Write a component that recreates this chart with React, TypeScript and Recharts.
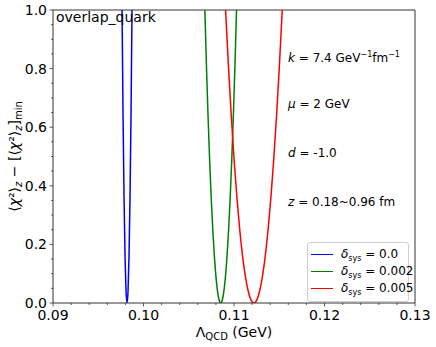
import { LineChart, Line, XAxis, YAxis, ReferenceLine } from "recharts";

const FONT = "DejaVu Sans, sans-serif";

// delta_sys = 0.0
const blueX = [0.09763, 0.09774, 0.09785, 0.09796, 0.09807, 0.09818, 0.09829, 0.0984, 0.09851, 0.09862, 0.09873];
const blueY = [1, 0.64, 0.36, 0.16, 0.04, 0, 0.04, 0.16, 0.36, 0.64, 1];

// delta_sys = 0.002
const greenX = [
  0.10678, 0.106955, 0.10713, 0.107305, 0.10748, 0.107655, 0.10783, 0.108005, 0.10818, 0.108355, 0.10853,
  0.108705, 0.10888, 0.109055, 0.10923, 0.109405, 0.10958, 0.109755, 0.10993, 0.110105, 0.11028,
];
const greenY = [1, 0.81, 0.64, 0.49, 0.36, 0.25, 0.16, 0.09, 0.04, 0.01, 0, 0.01, 0.04, 0.09, 0.16, 0.25, 0.36, 0.49, 0.64, 0.81, 1];

// delta_sys = 0.005
const redX = [
  0.10907, 0.109383, 0.109696, 0.110009, 0.110322, 0.110635, 0.110948, 0.111261, 0.111574, 0.111887, 0.1122,
  0.112513, 0.112826, 0.113139, 0.113452, 0.113765, 0.114078, 0.114391, 0.114704, 0.115017, 0.11533,
];
const redY = [1, 0.81, 0.64, 0.49, 0.36, 0.25, 0.16, 0.09, 0.04, 0.01, 0, 0.01, 0.04, 0.09, 0.16, 0.25, 0.36, 0.49, 0.64, 0.81, 1];

const sysLabels = ["0.0", "0.002", "0.005"];
const sysColors = ["#0000ff", "#008000", "#ff0000"];

const xTicks = [
  0.09, 0.092, 0.094, 0.096, 0.098, 0.1, 0.102, 0.104, 0.106, 0.108, 0.11,
  0.112, 0.114, 0.116, 0.118, 0.12, 0.122, 0.124, 0.126, 0.128, 0.13,
];
const xMajor = [0.09, 0.1, 0.11, 0.12, 0.13];
const yTicks = [
  0, 0.05, 0.1, 0.15, 0.2, 0.25, 0.3, 0.35, 0.4, 0.45, 0.5,
  0.55, 0.6, 0.65, 0.7, 0.75, 0.8, 0.85, 0.9, 0.95, 1,
];
const yMajor = [0, 0.2, 0.4, 0.6, 0.8, 1];

const toPoints = (xs: number[], ys: number[]) => xs.map((x, i) => ({ x, y: ys[i] }));
const series = [toPoints(blueX, blueY), toPoints(greenX, greenY), toPoints(redX, redY)];

const isIn = (v: number, list: number[]) => list.some((m) => Math.abs(m - v) < 1e-9);

const axisColor = "#333";

const XTick = ({ x, y, payload }: any) => {
  const major = isIn(payload.value, xMajor);
  return (
    <g>
      <line x1={x} x2={x} y1={y} y2={y + (major ? 3.5 : 2)} stroke={axisColor} strokeWidth={0.8} />
      {major && (
        <text x={x} y={y + 17} textAnchor="middle" fontSize={14} fontFamily={FONT} fill="#000">
          {payload.value.toFixed(2)}
        </text>
      )}
    </g>
  );
};

const YTick = ({ x, y, payload }: any) => {
  const major = isIn(payload.value, yMajor);
  return (
    <g>
      <line x1={x - (major ? 3.5 : 2)} x2={x} y1={y} y2={y} stroke={axisColor} strokeWidth={0.8} />
      {major && (
        <text x={x - 6} y={y + 5} textAnchor="end" fontSize={14} fontFamily={FONT} fill="#000">
          {payload.value.toFixed(1)}
        </text>
      )}
    </g>
  );
};

const XLabel = ({ viewBox }: any) => {
  const cx = viewBox.x + viewBox.width / 2;
  return (
    <text x={cx} y={337} textAnchor="middle" fontSize={14} fontFamily={FONT} fill="#000">
      Λ<tspan fontSize={10} dy={3}>QCD</tspan>
      <tspan dy={-3}> (GeV)</tspan>
    </text>
  );
};

const YLabel = ({ viewBox }: any) => {
  const cy = viewBox.y + viewBox.height / 2;
  return (
    <text
      x={0}
      y={0}
      transform={`translate(19,${cy}) rotate(-90)`}
      textAnchor="middle"
      fontSize={14}
      fontFamily={FONT}
      fill="#000"
    >
      ⟨<tspan fontStyle="italic">χ</tspan>²⟩
      <tspan fontSize={10} dy={3} fontStyle="italic">z</tspan>
      <tspan dy={-3}> − [⟨</tspan>
      <tspan fontStyle="italic">χ</tspan>
      <tspan>²⟩</tspan>
      <tspan fontSize={10} dy={3} fontStyle="italic">z</tspan>
      <tspan dy={-3}>]</tspan>
      <tspan fontSize={10} dy={3}>min</tspan>
    </text>
  );
};

const note: React.CSSProperties = {
  position: "absolute",
  left: 288,
  fontSize: 12,
  lineHeight: "14px",
  fontFamily: FONT,
  whiteSpace: "nowrap",
  color: "#000",
};
const sup: React.CSSProperties = { fontSize: 8, verticalAlign: 5 };

export default function App() {
  return (
    <div style={{ position: "absolute", left: 0, top: 0, width: 436, height: 347, background: "#fff" }}>
      <LineChart width={436} height={347} margin={{ top: 10, right: 21, bottom: 4, left: 0 }}>
        <XAxis
          type="number"
          dataKey="x"
          domain={[0.09, 0.13]}
          ticks={xTicks}
          interval={0}
          allowDataOverflow
          height={40}
          tickSize={0}
          tickMargin={0}
          tickLine={false}
          tick={<XTick />}
          axisLine={{ stroke: axisColor, strokeWidth: 1 }}
          label={<XLabel />}
        />
        <YAxis
          type="number"
          dataKey="y"
          domain={[0, 1]}
          ticks={yTicks}
          interval={0}
          allowDataOverflow
          width={53}
          tickSize={0}
          tickMargin={0}
          tickLine={false}
          tick={<YTick />}
          axisLine={{ stroke: axisColor, strokeWidth: 1 }}
          label={<YLabel />}
        />
        <ReferenceLine y={1} stroke={axisColor} strokeWidth={1} />
        <ReferenceLine x={0.13} stroke={axisColor} strokeWidth={1} />
        {series.map((data, i) => (
          <Line
            key={sysLabels[i]}
            data={data}
            dataKey="y"
            type="monotone"
            stroke={sysColors[i]}
            strokeWidth={1.5}
            dot={false}
            isAnimationActive={false}
          />
        ))}
      </LineChart>

      <div style={{ ...note, left: 56, top: 9, fontSize: 14, lineHeight: "16px" }}>overlap_quark</div>
      <div style={{ ...note, top: 48 }}>
        <i>k</i> = 7.4 GeV<span style={sup}>−1</span>fm<span style={sup}>−1</span>
      </div>
      <div style={{ ...note, top: 97 }}>
        <i>μ</i> = 2 GeV
      </div>
      <div style={{ ...note, top: 146 }}>
        <i>d</i> = -1.0
      </div>
      <div style={{ ...note, top: 195 }}>
        <i>z</i> = 0.18~0.96 fm
      </div>

      <div
        style={{
          position: "absolute",
          left: 307,
          top: 242,
          width: 100,
          height: 58,
          border: "1px solid #d0d0d0",
          borderRadius: 3,
          background: "rgba(255,255,255,0.8)",
          fontFamily: FONT,
          fontSize: 12,
          color: "#000",
        }}
      >
        {sysLabels.map((lab, i) => (
          <div key={lab} style={{ position: "absolute", left: 3, top: 3 + i * 17, height: 17, display: "flex", alignItems: "center" }}>
            <span style={{ display: "inline-block", width: 22, height: 0, borderTop: `1.5px solid ${sysColors[i]}`, marginRight: 8 }} />
            <span style={{ whiteSpace: "nowrap" }}>
              <i>δ</i>
              <span style={{ fontSize: 8, verticalAlign: -3 }}>sys</span> = {lab}
            </span>
          </div>
        ))}
      </div>
    </div>
  );
}
